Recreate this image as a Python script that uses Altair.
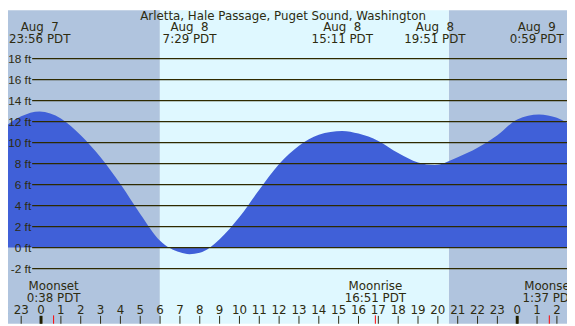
import altair as alt
import pandas as pd

# Tide curve: hours from Aug 8 00:00 PDT, height in feet
tide_hours = [-3, -2, -1, -0.07, 1, 2, 3, 4, 5, 6, 7, 7.48, 8, 9, 10, 11, 12, 13, 14,
              15.18, 16, 17, 18, 19, 19.85, 21, 22, 23, 24, 25.1, 26, 27]
tide_feet = [9.6, 11.25, 12.5, 12.96, 12.3, 10.7, 8.6, 6.05, 3.2, 0.65, -0.45, -0.63,
             -0.5, 0.8, 2.9, 5.5, 7.95, 9.7, 10.75, 11.1, 10.85, 10.15, 9.0, 8.1, 7.86,
             8.6, 9.5, 10.7, 12.2, 12.68, 12.35, 11.3]

# High / low tide events shown in the header
event_hours = [-0.067, 7.483, 15.183, 19.85, 24.983]
event_dates = ["Aug  7", "Aug  8", "Aug  8", "Aug  8", "Aug  9"]
event_times = ["23:56 PDT", "7:29 PDT", "15:11 PDT", "19:51 PDT", "0:59 PDT"]

# Daylight
sunrise = 5.99
sunset = 20.55
night_start = [-3, sunset]
night_end = [sunrise, 28]

# Moon events
moon_hours = [0.633, 16.85, 25.617]
moon_names = ["Moonset", "Moonrise", "Moonset"]
moon_times = ["0:38 PDT", "16:51 PDT", "1:37 PDT"]

# Grid / axis
grid_feet = [-2, 0, 2, 4, 6, 8, 10, 12, 14, 16, 18]
hour_ticks = list(range(-2, 27))
midnights = [0, 24]

title = "Arletta, Hale Passage, Puget Sound, Washington"

W, H = 567, 318
FONT = "DejaVu Sans"
YFONT = "Liberation Sans"
TXT = "#2d2b10"
GRID = "#2e2a00"

xs = alt.Scale(domain=[-1.665, 26.509], nice=False, zero=False)
ys = alt.Scale(domain=[-7.258, 22.60], nice=False, zero=False)

def X(f):
    return alt.X(f, type="quantitative", scale=xs, axis=None)

def Y(f):
    return alt.Y(f, type="quantitative", scale=ys, axis=None)

tide_df = pd.DataFrame({"h": tide_hours, "ft": tide_feet})
night_df = pd.DataFrame({"s": night_start, "e": night_end})
day_df = pd.DataFrame({"s": [sunrise], "e": [sunset]})
ev_df = pd.DataFrame({
    "h": event_hours,
    "d": [d.replace("  ", " \u00a0") for d in event_dates],
    "t": event_times,
})
moon_df = pd.DataFrame({"h": moon_hours, "n": moon_names, "t": moon_times})
grid_df = pd.DataFrame({"ft": grid_feet, "lab": [f"{v} ft" for v in grid_feet]})
hr_df = pd.DataFrame({"h": hour_ticks, "lab": [str(h % 24) for h in hour_ticks]})
mid_df = pd.DataFrame({"h": midnights})
title_df = pd.DataFrame({"t": [title]})

night = alt.Chart(night_df).mark_rect(color="#b0c4de").encode(
    x=X("s"), x2="e", y=alt.value(0), y2=alt.value(H))
day = alt.Chart(day_df).mark_rect(color="#dff8ff").encode(
    x=X("s"), x2="e", y=alt.value(0), y2=alt.value(H))

area = alt.Chart(tide_df).mark_area(color="#4060d8", interpolate="monotone", clip=True).encode(
    x=X("h"), y=Y("ft"), y2=alt.value(H))

grid = alt.Chart(grid_df).mark_rule(color=GRID, strokeWidth=1.2).encode(
    y=Y("ft"), x=alt.value(24.5), x2=alt.value(W))
grid_lab = alt.Chart(grid_df).mark_text(
    align="right", baseline="middle", font=YFONT, fontSize=12, color=TXT, dy=1).encode(
    y=Y("ft"), x=alt.value(23.5), text="lab")

title_t = alt.Chart(title_df).mark_text(
    align="center", baseline="alphabetic", font=FONT, fontSize=12, color=TXT).encode(
    x=alt.value(279), y=alt.value(9.5), text="t")
ev_d = alt.Chart(ev_df).mark_text(
    align="center", baseline="alphabetic", font=FONT, fontSize=12, color=TXT).encode(
    x=X("h"), y=alt.value(21.5), text="d")
ev_t = alt.Chart(ev_df).mark_text(
    align="center", baseline="alphabetic", font=FONT, fontSize=12, color=TXT).encode(
    x=X("h"), y=alt.value(33.5), text="t")

moon_n = alt.Chart(moon_df).mark_text(
    align="center", baseline="alphabetic", font=FONT, fontSize=12, color=TXT).encode(
    x=X("h"), y=alt.value(284), text="n")
moon_t = alt.Chart(moon_df).mark_text(
    align="center", baseline="alphabetic", font=FONT, fontSize=12, color=TXT).encode(
    x=X("h"), y=alt.value(296), text="t")

hr_lab = alt.Chart(hr_df).mark_text(
    align="center", baseline="alphabetic", font=FONT, fontSize=12, color=TXT).encode(
    x=X("h"), y=alt.value(308), text="lab")
hr_tick = alt.Chart(hr_df).mark_rule(color=TXT, strokeWidth=1).encode(
    x=X("h"), y=alt.value(310), y2=alt.value(H))
mid_tick = alt.Chart(mid_df).mark_rule(color="#221f00", strokeWidth=3).encode(
    x=X("h"), y=alt.value(310), y2=alt.value(H))
moon_tick = alt.Chart(moon_df).mark_rule(color="#ff0000", strokeWidth=1).encode(
    x=X("h"), y=alt.value(309.5), y2=alt.value(H))

chart = alt.layer(
    night, day, area, grid, grid_lab, title_t, ev_d, ev_t,
    moon_n, moon_t, hr_lab, hr_tick, mid_tick, moon_tick
).properties(
    width=W, height=H,
    autosize=alt.AutoSizeParams(type="none"),
    padding=0,
).configure_view(stroke=None)

chart.save("out.html", embed_options={"renderer": "svg", "actions": False})
